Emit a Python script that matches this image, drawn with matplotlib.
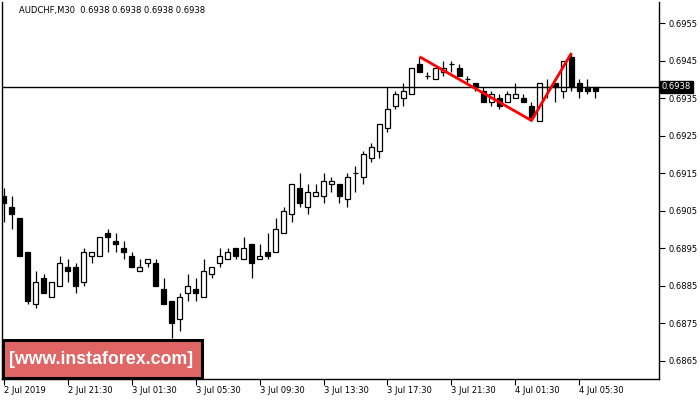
import matplotlib
matplotlib.use("Agg")
import matplotlib.pyplot as plt
from matplotlib.patches import Rectangle
from matplotlib.transforms import blended_transform_factory

# M30 bars, 2 Jul 17:30 .. 4 Jul 06:30
opens = [
    0.6909, 0.6906, 0.6903, 0.6894, 0.6880, 0.6887, 0.6882, 0.6885, 0.6890, 0.6890,
    0.6886, 0.6893, 0.6893, 0.6899, 0.6897, 0.6895, 0.6893, 0.6889, 0.6891, 0.6891,
    0.6884, 0.6881, 0.6876, 0.6883, 0.6884, 0.6882, 0.6888, 0.6891, 0.6892, 0.6895,
    0.6892, 0.6896, 0.6892, 0.6894, 0.6894, 0.6899, 0.6904, 0.6911, 0.6906, 0.6909,
    0.6909, 0.6912, 0.6912, 0.6908, 0.6915, 0.6914, 0.6919, 0.6921, 0.6927, 0.6933,
    0.6935, 0.6936, 0.6944, 0.6941, 0.6940, 0.6942, 0.6944, 0.6943, 0.6940, 0.6939,
    0.6937, 0.6934, 0.6935, 0.6934, 0.6935, 0.6935, 0.6933, 0.6929, 0.6938, 0.6939,
    0.6937, 0.6946, 0.6939, 0.6938, 0.6938,
]
highs = [
    0.6911, 0.6909, 0.6903, 0.6894, 0.6889, 0.6888, 0.6886, 0.6893, 0.6892, 0.6891,
    0.6895, 0.6894, 0.6898, 0.6900, 0.6899, 0.6897, 0.6894, 0.6892, 0.6892, 0.6892,
    0.6887, 0.6881, 0.6883, 0.6888, 0.6887, 0.6892, 0.6890, 0.6895, 0.6895, 0.6895,
    0.6898, 0.6896, 0.6896, 0.6899, 0.6903, 0.6906, 0.6912, 0.6915, 0.6912, 0.6912,
    0.6915, 0.6914, 0.6912, 0.6915, 0.6917, 0.6921, 0.6923, 0.6928, 0.6938, 0.6937,
    0.6939, 0.6943, 0.6946, 0.6942, 0.6943, 0.6945, 0.6945, 0.6944, 0.6941, 0.6939,
    0.6938, 0.6937, 0.6936, 0.6937, 0.6939, 0.6936, 0.6934, 0.6939, 0.6940, 0.6939,
    0.6945, 0.6947, 0.6940, 0.6940, 0.6938,
]
lows = [
    0.6902, 0.6900, 0.6893, 0.6880, 0.6879, 0.6883, 0.6882, 0.6885, 0.6886, 0.6883,
    0.6885, 0.6891, 0.6893, 0.6894, 0.6894, 0.6892, 0.6890, 0.6889, 0.6890, 0.6885,
    0.6880, 0.6871, 0.6873, 0.6881, 0.6881, 0.6882, 0.6887, 0.6890, 0.6892, 0.6892,
    0.6892, 0.6887, 0.6892, 0.6892, 0.6894, 0.6899, 0.6902, 0.6906, 0.6904, 0.6909,
    0.6907, 0.6910, 0.6907, 0.6906, 0.6910, 0.6912, 0.6918, 0.6919, 0.6926, 0.6932,
    0.6933, 0.6936, 0.6942, 0.6940, 0.6940, 0.6941, 0.6942, 0.6941, 0.6939, 0.6937,
    0.6934, 0.6933, 0.6932, 0.6934, 0.6935, 0.6934, 0.6929, 0.6929, 0.6935, 0.6934,
    0.6935, 0.6937, 0.6935, 0.6936, 0.6935,
]
closes = [
    0.6907, 0.6904, 0.6893, 0.6881, 0.6886, 0.6883, 0.6886, 0.6891, 0.6889, 0.6885,
    0.6894, 0.6894, 0.6898, 0.6898, 0.6896, 0.6894, 0.6890, 0.6890, 0.6892, 0.6885,
    0.6880, 0.6875, 0.6882, 0.6885, 0.6883, 0.6889, 0.6890, 0.6893, 0.6894, 0.6893,
    0.6895, 0.6891, 0.6893, 0.6893, 0.6900, 0.6905, 0.6912, 0.6907, 0.6910, 0.6910,
    0.6913, 0.6913, 0.6909, 0.6914, 0.6915, 0.6920, 0.6922, 0.6928, 0.6932, 0.6936,
    0.6937, 0.6943, 0.6942, 0.6941, 0.6943, 0.6943, 0.6944, 0.6941, 0.6940, 0.6938,
    0.6934, 0.6936, 0.6933, 0.6936, 0.6936, 0.6934, 0.6930, 0.6939, 0.6938, 0.6938,
    0.6945, 0.6938, 0.6937, 0.6937, 0.6937,
]

time_tick_bars = [0, 8, 16, 24, 32, 40, 48, 56, 64, 72]
time_tick_labels = [
    "2 Jul 2019", "2 Jul 21:30", "3 Jul 01:30", "3 Jul 05:30", "3 Jul 09:30",
    "3 Jul 13:30", "3 Jul 17:30", "3 Jul 21:30", "4 Jul 01:30", "4 Jul 05:30",
]
price_ticks = [0.6865, 0.6875, 0.6885, 0.6895, 0.6905,
               0.6915, 0.6925, 0.6935, 0.6945, 0.6955]

pattern_bars = [52, 66, 71]
pattern_prices = [0.6946, 0.6929, 0.6947]

symbol = "AUDCHF,M30"
last_ohlc = [0.6938, 0.6938, 0.6938, 0.6938]
bid = 0.6938
watermark = "[www.instaforex.com]"

W, H = 700, 400
FONT = "DejaVu Sans"


def draw_candles(ax, opens, highs, lows, closes, width=0.55):
    for i, (o, h, l, c) in enumerate(zip(opens, highs, lows, closes)):
        ax.vlines(i, l, h, color="black", linewidth=0.9, zorder=2)
        if o == c:
            ax.hlines(o, i - width / 2, i + width / 2,
                color="black", linewidth=0.9, zorder=3
                )
            continue
        face = "white" if c > o else "black"
        ax.add_patch(Rectangle(
            (i - width / 2, min(o, c)), width, abs(c - o),
            facecolor=face, edgecolor="black",
            linewidth=0.9, zorder=3
            ))


def main():
    fig = plt.figure(figsize=(W / 100, H / 100), dpi=100)
    ax = fig.add_axes([2 / W, 21 / H, 657 / W, 377 / H])

    draw_candles(ax, opens, highs, lows, closes)
    ax.axhline(bid, color="black", linewidth=1.0, zorder=4)
    ax.plot(pattern_bars, pattern_prices,
        color="red", linewidth=2.0, zorder=5,
        solid_capstyle="butt"
        )

    ax.set_xlim(-0.19, 81.94)
    ax.set_ylim(0.686007, 0.69606)

    ax.yaxis.tick_right()
    ax.set_yticks(price_ticks)
    ax.set_yticklabels([f"{p:.4f}" for p in price_ticks])
    ax.tick_params(axis="y", length=4, width=0.8, pad=3,
        labelsize=6, direction="out"
        )
    ax.set_xticks(time_tick_bars)
    ax.set_xticklabels(time_tick_labels)
    for lbl in ax.get_xticklabels():
        lbl.set_ha("left")
    ax.tick_params(axis="x", length=4, width=0.8, pad=1,
        labelsize=6, direction="out"
        )
    for side in ["left", "right", "bottom"]:
        ax.spines[side].set_linewidth(1.0)
        ax.spines[side].set_color("black")
    ax.spines["top"].set_visible(False)

    tr = blended_transform_factory(ax.transAxes, ax.transData)
    ax.text(1.004, bid, f"{bid:.4f}", transform=tr,
        ha="left", va="center", color="white", fontsize=6,
        bbox=dict(facecolor="black", edgecolor="black", pad=1.2),
        zorder=6, clip_on=False
        )

    title = symbol + "  " + " ".join(f"{v:.4f}" for v in last_ohlc)
    fig.text(19 / W, 1 - 11 / H, title,
        ha="left", va="center", fontsize=6, family=FONT
        )

    fig.add_artist(Rectangle(
        (3 / W, 22 / H), 199 / W, 38 / H,
        transform=fig.transFigure, facecolor="#e06666",
        edgecolor="black", linewidth=2.2, zorder=10
        ))
    fig.text(101.5 / W, 1 - 360 / H, watermark,
        ha="center", va="center", color="white",
        fontsize=12.8, fontweight="bold",
        family="Liberation Sans", zorder=11
        )

    fig.savefig("out.png", dpi=100, facecolor="white")


if __name__ == "__main__":
    main()
